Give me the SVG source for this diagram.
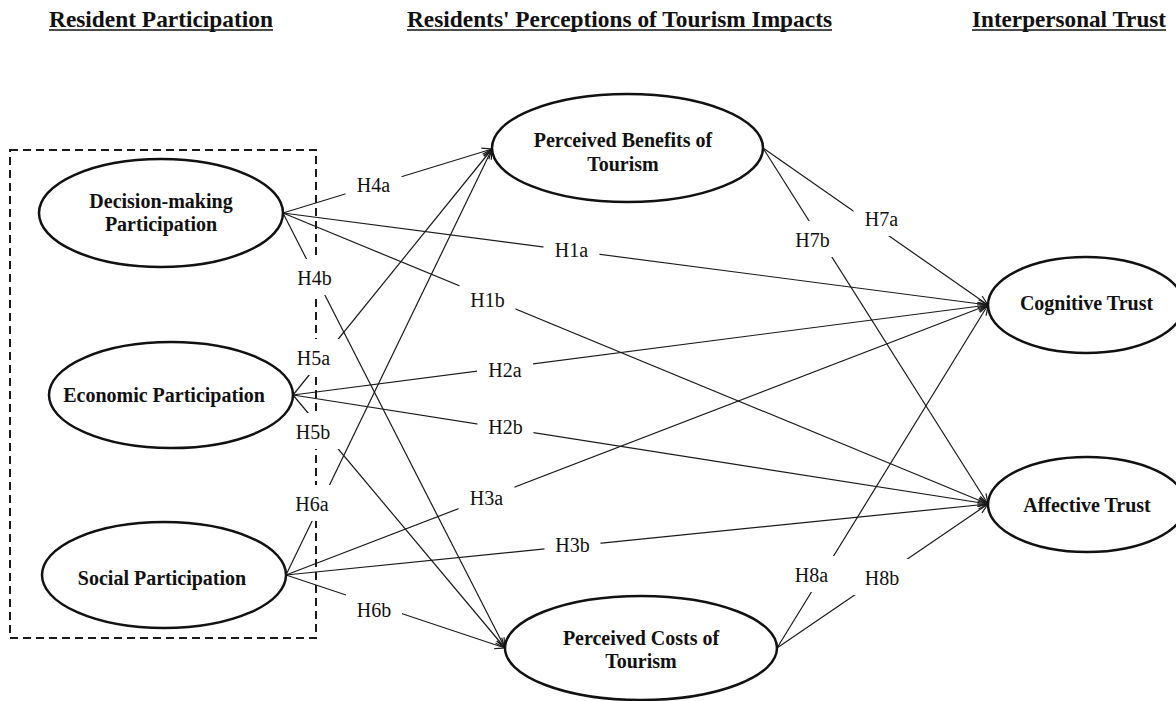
<svg xmlns="http://www.w3.org/2000/svg" width="1176" height="701" viewBox="0 0 1176 701">
<style>
.hdr{font-family:"Liberation Serif","Times New Roman",serif;font-size:23px;font-weight:bold;fill:#111;text-anchor:middle}
.ul{stroke:#111;stroke-width:1.5}
.node ellipse{fill:#fff;stroke:#111;stroke-width:2.5}
.node text{font-family:"Liberation Serif","Times New Roman",serif;font-size:20px;font-weight:bold;fill:#111;text-anchor:middle}
.edge{stroke:#1a1a1a;stroke-width:1.2;fill:none;marker-end:url(#arr)}
.lbl rect{fill:#fff;stroke:none}
.lbl text{font-family:"Liberation Serif","Times New Roman",serif;font-size:20px;fill:#111;text-anchor:middle}
</style>
<defs>
<marker id="arr" markerUnits="userSpaceOnUse" markerWidth="14" markerHeight="12" refX="11" refY="5" orient="auto">
<path d="M1,1 L11,5 L1,9" fill="none" stroke="#1a1a1a" stroke-width="1.2"/>
</marker>
</defs>
<rect width="1176" height="701" fill="#fff"/>
<g id="headers">
<text class="hdr" x="161" y="27" textLength="224" lengthAdjust="spacingAndGlyphs">Resident Participation</text>
<line class="ul" x1="49" y1="30" x2="273" y2="30"/>
<text class="hdr" x="619.5" y="27" textLength="425" lengthAdjust="spacingAndGlyphs">Residents' Perceptions of Tourism Impacts</text>
<line class="ul" x1="407" y1="30" x2="832" y2="30"/>
<text class="hdr" x="1069" y="27" textLength="194" lengthAdjust="spacingAndGlyphs">Interpersonal Trust</text>
<line class="ul" x1="972" y1="30" x2="1166" y2="30"/>
</g>
<rect id="group-box" x="10" y="150" width="306" height="488" fill="none" stroke="#1a1a1a" stroke-width="2" stroke-dasharray="8,5"/>
<g id="connectors">
<line class="edge" x1="283" y1="213" x2="492" y2="149"/>
<line class="edge" x1="283" y1="213" x2="505" y2="648"/>
<line class="edge" x1="283" y1="213" x2="988" y2="305"/>
<line class="edge" x1="283" y1="213" x2="988" y2="504"/>
<line class="edge" x1="293" y1="395" x2="492" y2="149"/>
<line class="edge" x1="293" y1="395" x2="505" y2="648"/>
<line class="edge" x1="293" y1="395" x2="988" y2="305"/>
<line class="edge" x1="293" y1="395" x2="988" y2="504"/>
<line class="edge" x1="286" y1="575" x2="492" y2="149"/>
<line class="edge" x1="286" y1="575" x2="505" y2="648"/>
<line class="edge" x1="286" y1="575" x2="988" y2="305"/>
<line class="edge" x1="286" y1="575" x2="988" y2="504"/>
<line class="edge" x1="763" y1="148" x2="988" y2="305"/>
<line class="edge" x1="763" y1="148" x2="988" y2="504"/>
<line class="edge" x1="777" y1="648" x2="988" y2="305"/>
<line class="edge" x1="777" y1="648" x2="988" y2="504"/>
</g>
<g id="labels" class="lbl">
<rect x="345.5" y="166" width="56" height="36"/><text x="373.5" y="192">H4a</text>
<rect x="286.5" y="259" width="56" height="36"/><text x="314.5" y="285">H4b</text>
<rect x="543.5" y="231" width="56" height="36"/><text x="571.5" y="257">H1a</text>
<rect x="459.5" y="281" width="56" height="36"/><text x="487.5" y="307">H1b</text>
<rect x="285.5" y="339" width="56" height="36"/><text x="313.5" y="365">H5a</text>
<rect x="285" y="413" width="56" height="36"/><text x="313" y="439">H5b</text>
<rect x="477" y="351" width="56" height="36"/><text x="505" y="377">H2a</text>
<rect x="477.5" y="408" width="56" height="36"/><text x="505.5" y="434">H2b</text>
<rect x="284" y="485" width="56" height="36"/><text x="312" y="511">H6a</text>
<rect x="346" y="591" width="56" height="36"/><text x="374" y="617">H6b</text>
<rect x="458.5" y="479" width="56" height="36"/><text x="486.5" y="505">H3a</text>
<rect x="544.5" y="526" width="56" height="36"/><text x="572.5" y="552">H3b</text>
<rect x="853.5" y="200" width="56" height="36"/><text x="881.5" y="226">H7a</text>
<rect x="784.5" y="221" width="56" height="36"/><text x="812.5" y="247">H7b</text>
<rect x="783.5" y="556" width="56" height="36"/><text x="811.5" y="582">H8a</text>
<rect x="854" y="559" width="56" height="36"/><text x="882" y="585">H8b</text>
</g>
<g id="decision" class="node">
<ellipse cx="161" cy="213" rx="122" ry="54"/>
<text x="161" y="208">Decision-making</text>
<text x="161" y="231">Participation</text>
</g>
<g id="economic" class="node">
<ellipse cx="171" cy="395" rx="122" ry="53"/>
<text x="164" y="402">Economic Participation</text>
</g>
<g id="social" class="node">
<ellipse cx="164" cy="575" rx="122" ry="53"/>
<text x="162" y="585">Social Participation</text>
</g>
<g id="benefits" class="node">
<ellipse cx="627.5" cy="148" rx="135.5" ry="54"/>
<text x="623" y="147">Perceived Benefits of</text>
<text x="623" y="171">Tourism</text>
</g>
<g id="costs" class="node">
<ellipse cx="641" cy="648" rx="136" ry="52"/>
<text x="641" y="645">Perceived Costs of</text>
<text x="641" y="668">Tourism</text>
</g>
<g id="cognitive" class="node">
<ellipse cx="1086" cy="305" rx="98" ry="48"/>
<text x="1086.5" y="310">Cognitive Trust</text>
</g>
<g id="affective" class="node">
<ellipse cx="1087" cy="504.5" rx="99" ry="47.5"/>
<text x="1087" y="512">Affective Trust</text>
</g>
</svg>
